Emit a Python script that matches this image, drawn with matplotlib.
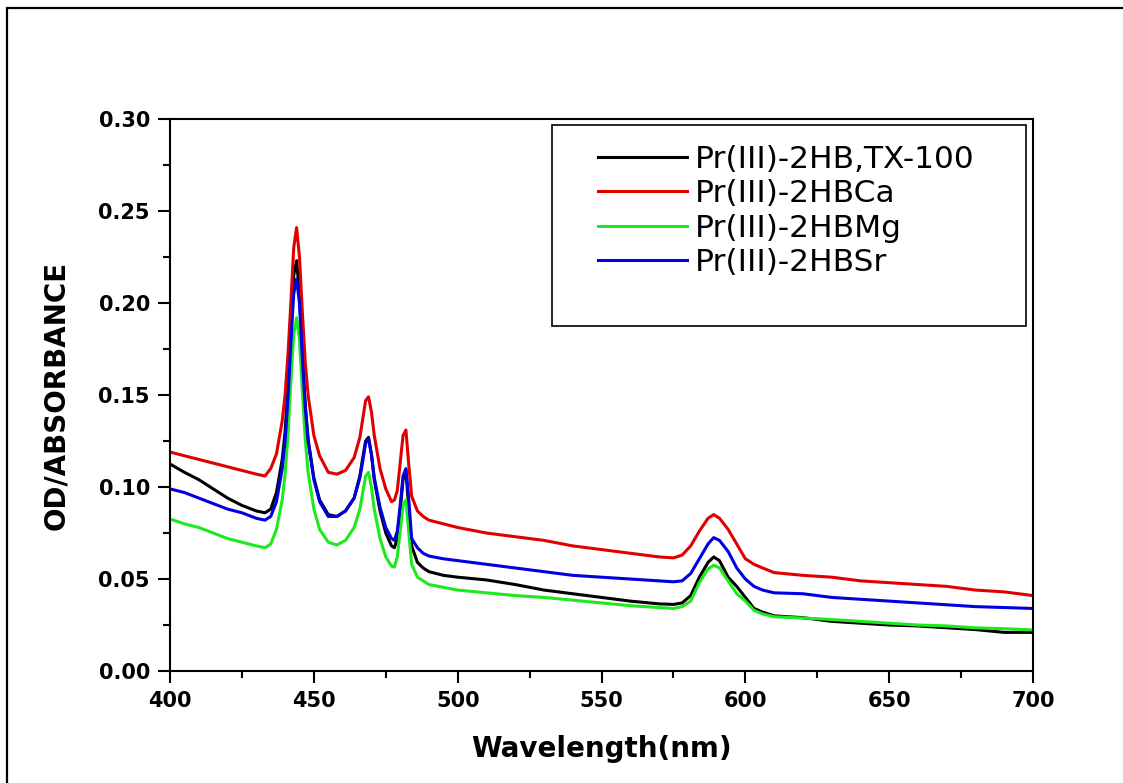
import matplotlib
matplotlib.use("Agg")
import matplotlib.pyplot as plt
from matplotlib.patches import Rectangle
from matplotlib.ticker import MultipleLocator

# wavelength grid (nm)
wavelength = [400, 405, 410, 415, 420, 425, 430, 433, 435, 437, 439, 440, 441, 442, 443, 444,
              445, 446, 447, 448, 450, 452, 455, 458, 461, 464, 466, 467, 468, 469, 470, 471,
              473, 475, 477, 478, 479, 480, 481, 482, 483, 484, 486, 488, 490, 495, 500, 510,
              520, 530, 540, 550, 560, 570, 575, 578, 581, 584, 587, 589, 591, 594, 597, 600,
              603, 606, 610, 620, 630, 640, 650, 660, 670, 680, 690, 700]

# Pr(III)-2HB,TX-100
abs_tx100 = [0.1125, 0.108, 0.104, 0.099, 0.094, 0.090, 0.087, 0.086, 0.088, 0.097, 0.115, 0.130,
             0.155, 0.186, 0.215, 0.223, 0.205, 0.172, 0.145, 0.126, 0.105, 0.093, 0.085, 0.084,
             0.087, 0.094, 0.106, 0.116, 0.125, 0.127, 0.118, 0.104, 0.087, 0.075, 0.068, 0.067,
             0.072, 0.087, 0.104, 0.109, 0.088, 0.068, 0.059, 0.056, 0.054, 0.052, 0.051, 0.0495,
             0.047, 0.044, 0.042, 0.040, 0.038, 0.0365, 0.0362, 0.037, 0.041, 0.051, 0.059, 0.062,
             0.060, 0.051, 0.046, 0.040, 0.034, 0.032, 0.030, 0.029, 0.027, 0.026, 0.025, 0.0245,
             0.0235, 0.0225, 0.021, 0.021]

# Pr(III)-2HBCa
abs_ca = [0.119, 0.117, 0.115, 0.113, 0.111, 0.109, 0.107, 0.106, 0.110, 0.118, 0.136, 0.150,
          0.172, 0.200, 0.230, 0.241, 0.225, 0.195, 0.168, 0.150, 0.128, 0.117, 0.108, 0.107,
          0.109, 0.116, 0.127, 0.137, 0.147, 0.149, 0.141, 0.128, 0.110, 0.099, 0.092, 0.093,
          0.098, 0.113, 0.128, 0.131, 0.112, 0.095, 0.087, 0.084, 0.082, 0.080, 0.078, 0.075,
          0.073, 0.071, 0.068, 0.066, 0.064, 0.062, 0.0615, 0.063, 0.068, 0.076, 0.083, 0.085,
          0.083, 0.077, 0.069, 0.061, 0.058, 0.056, 0.0535, 0.052, 0.051, 0.049, 0.048, 0.047,
          0.046, 0.044, 0.043, 0.041]

# Pr(III)-2HBMg
abs_mg = [0.0826, 0.080, 0.078, 0.075, 0.072, 0.070, 0.068, 0.067, 0.069, 0.077, 0.093, 0.107,
          0.128, 0.157, 0.183, 0.192, 0.180, 0.152, 0.126, 0.108, 0.088, 0.077, 0.070, 0.0685,
          0.071, 0.078, 0.088, 0.097, 0.106, 0.108, 0.100, 0.088, 0.072, 0.062, 0.057, 0.0565,
          0.062, 0.076, 0.090, 0.093, 0.075, 0.058, 0.051, 0.049, 0.047, 0.0455, 0.044, 0.0425,
          0.041, 0.040, 0.0385, 0.037, 0.0355, 0.0345, 0.034, 0.035, 0.038, 0.048, 0.0555, 0.0575,
          0.056, 0.049, 0.042, 0.038, 0.033, 0.031, 0.0295, 0.0288, 0.028, 0.027, 0.026, 0.025,
          0.0245, 0.0235, 0.023, 0.0223]

# Pr(III)-2HBSr
abs_sr = [0.099, 0.097, 0.094, 0.091, 0.088, 0.086, 0.083, 0.082, 0.084, 0.092, 0.110, 0.125,
          0.148, 0.178, 0.205, 0.213, 0.200, 0.170, 0.143, 0.125, 0.104, 0.092, 0.084, 0.084,
          0.087, 0.094, 0.105, 0.114, 0.124, 0.126, 0.118, 0.105, 0.089, 0.078, 0.072, 0.071,
          0.076, 0.090, 0.106, 0.110, 0.093, 0.072, 0.067, 0.064, 0.0625, 0.061, 0.060, 0.058,
          0.056, 0.054, 0.052, 0.051, 0.050, 0.049, 0.0485, 0.049, 0.053, 0.061, 0.069, 0.0725,
          0.071, 0.065, 0.056, 0.050, 0.046, 0.044, 0.0425, 0.042, 0.040, 0.039, 0.038, 0.037,
          0.036, 0.035, 0.0345, 0.034]

series_labels = ["Pr(III)-2HB,TX-100", "Pr(III)-2HBCa", "Pr(III)-2HBMg", "Pr(III)-2HBSr"]
series_colors = ["#000000", "#e00000", "#1ee81e", "#0000e0"]

plt.rcParams['font.family'] = ['DejaVu Sans']

fig = plt.figure(figsize=(11.23, 7.83), dpi=100)
ax = fig.add_axes([0.1514, 0.1430, 0.7685, 0.7050])

# outer frame around the picture
fig.patches.append(Rectangle((7 / 1123, -0.1), 1.2, 1.1 - 8 / 783, transform=fig.transFigure,
                             fill=False, edgecolor='black', linewidth=1.6))

lines = []
for vals, lab, col in zip([abs_tx100, abs_ca, abs_mg, abs_sr], series_labels, series_colors):
    ln, = ax.plot(wavelength, vals, color=col, linewidth=2.2, label=lab)
    lines.append(ln)

ax.set_xlim(400, 700)
ax.set_ylim(0, 0.30)
ax.xaxis.set_major_locator(MultipleLocator(50))
ax.xaxis.set_minor_locator(MultipleLocator(25))
ax.yaxis.set_major_locator(MultipleLocator(0.05))
ax.yaxis.set_minor_locator(MultipleLocator(0.025))
ax.yaxis.set_major_formatter(matplotlib.ticker.FormatStrFormatter('%.2f'))

for sp in ax.spines.values():
    sp.set_linewidth(1.5)
ax.tick_params(which='major', direction='out', length=8.5, width=1.5, labelsize=15, pad=6)
ax.tick_params(which='minor', direction='out', length=5, width=1.5)
for lbl in ax.get_xticklabels() + ax.get_yticklabels():
    lbl.set_fontweight('bold')

ax.set_xlabel("Wavelength(nm)", fontsize=20, fontweight='bold', labelpad=17)
ax.set_ylabel("OD/ABSORBANCE", fontsize=20, fontweight='bold', labelpad=20)

# legend box drawn separately so the padding matches
ax.add_patch(Rectangle((0.4427, 0.625), 0.5492, 0.364, transform=ax.transAxes,
                       fill=False, edgecolor='black', linewidth=1.2, zorder=5))
ax.legend(handles=lines, loc='upper left', bbox_to_anchor=(0.496, 0.953), frameon=False,
          fontsize=22.5, borderpad=0, borderaxespad=0, handlelength=2.85,
          handletextpad=0.26, labelspacing=0.17)

fig.savefig("out.png", dpi=100)
